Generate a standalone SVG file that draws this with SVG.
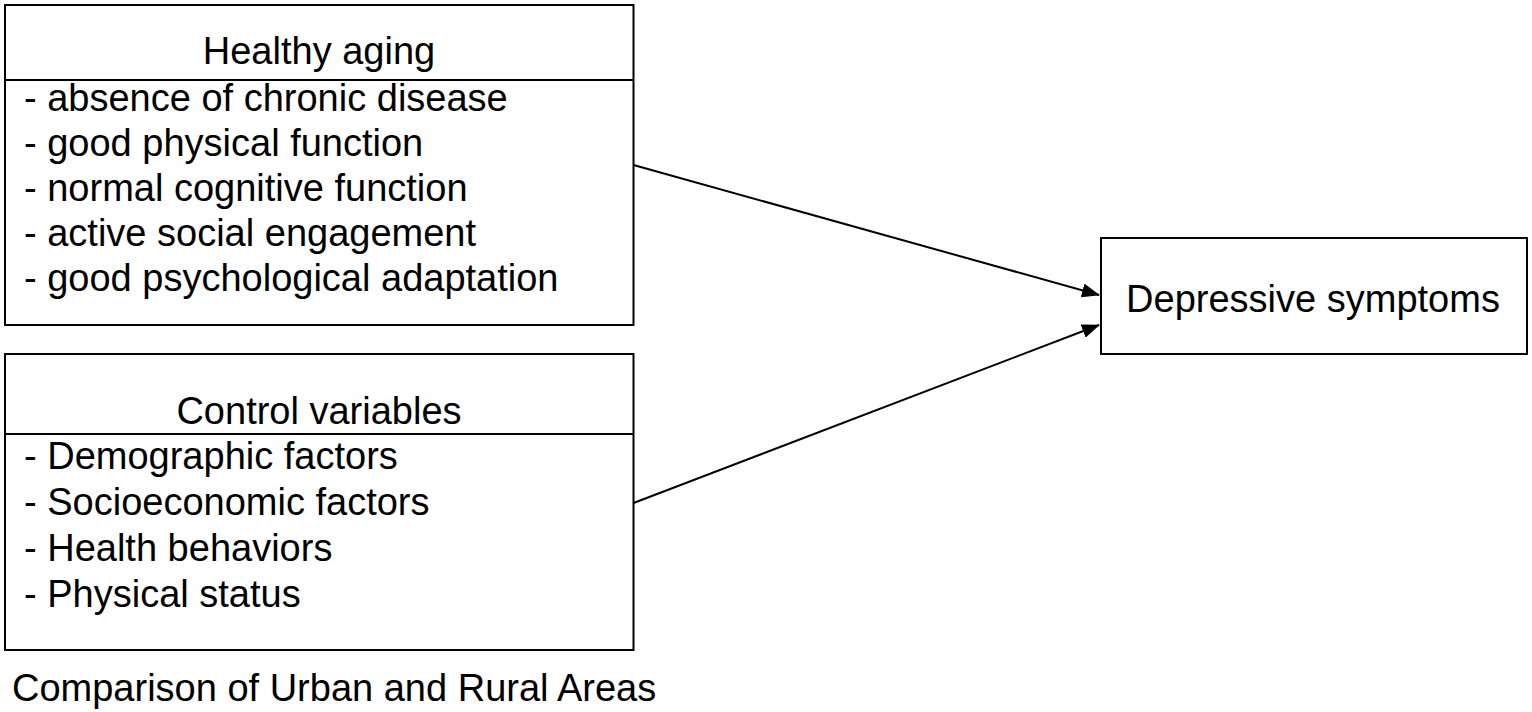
<svg xmlns="http://www.w3.org/2000/svg" width="1532" height="712" viewBox="0 0 1532 712">
<style>
.box{fill:#fff;stroke:#000;stroke-width:2}
.div{stroke:#000;stroke-width:2}
.t{font-family:"Liberation Sans",Arial,sans-serif;font-size:38px;fill:#000}
.c{text-anchor:middle}
.edge{stroke:#000;stroke-width:2;fill:none}
</style>
<defs>
<marker id="arr" markerWidth="18" markerHeight="14" refX="17" refY="7" orient="auto" markerUnits="userSpaceOnUse">
<path d="M0,0 L18,7 L0,14 Z" fill="#000"/>
</marker>
</defs>
<rect width="1532" height="712" fill="#fff"/>
<g id="healthy-aging">
<rect class="box" x="5" y="5" width="628.5" height="320"/>
<line class="div" x1="5" y1="80" x2="633.5" y2="80"/>
<text class="t c" x="319" y="64">Healthy aging</text>
<text class="t" x="24" y="111">- absence of chronic disease</text>
<text class="t" x="24" y="156">- good physical function</text>
<text class="t" x="24" y="201">- normal cognitive function</text>
<text class="t" x="24" y="246">- active social engagement</text>
<text class="t" x="24" y="291">- good psychological adaptation</text>
</g>
<g id="control-variables">
<rect class="box" x="5" y="354" width="628.5" height="296"/>
<line class="div" x1="5" y1="434" x2="633.5" y2="434"/>
<text class="t c" x="319" y="424">Control variables</text>
<text class="t" x="24" y="469">- Demographic factors</text>
<text class="t" x="24" y="515">- Socioeconomic factors</text>
<text class="t" x="24" y="561">- Health behaviors</text>
<text class="t" x="24" y="607">- Physical status</text>
</g>
<g id="depressive-symptoms">
<rect class="box" x="1101" y="238" width="426" height="116"/>
<text class="t c" x="1313" y="312">Depressive symptoms</text>
</g>
<g id="caption">
<text class="t" x="12" y="701">Comparison of Urban and Rural Areas</text>
</g>
<g id="connectors">
<line class="edge" x1="633.5" y1="165" x2="1099" y2="295" marker-end="url(#arr)"/>
<line class="edge" x1="633.5" y1="503" x2="1099" y2="325" marker-end="url(#arr)"/>
</g>
</svg>
